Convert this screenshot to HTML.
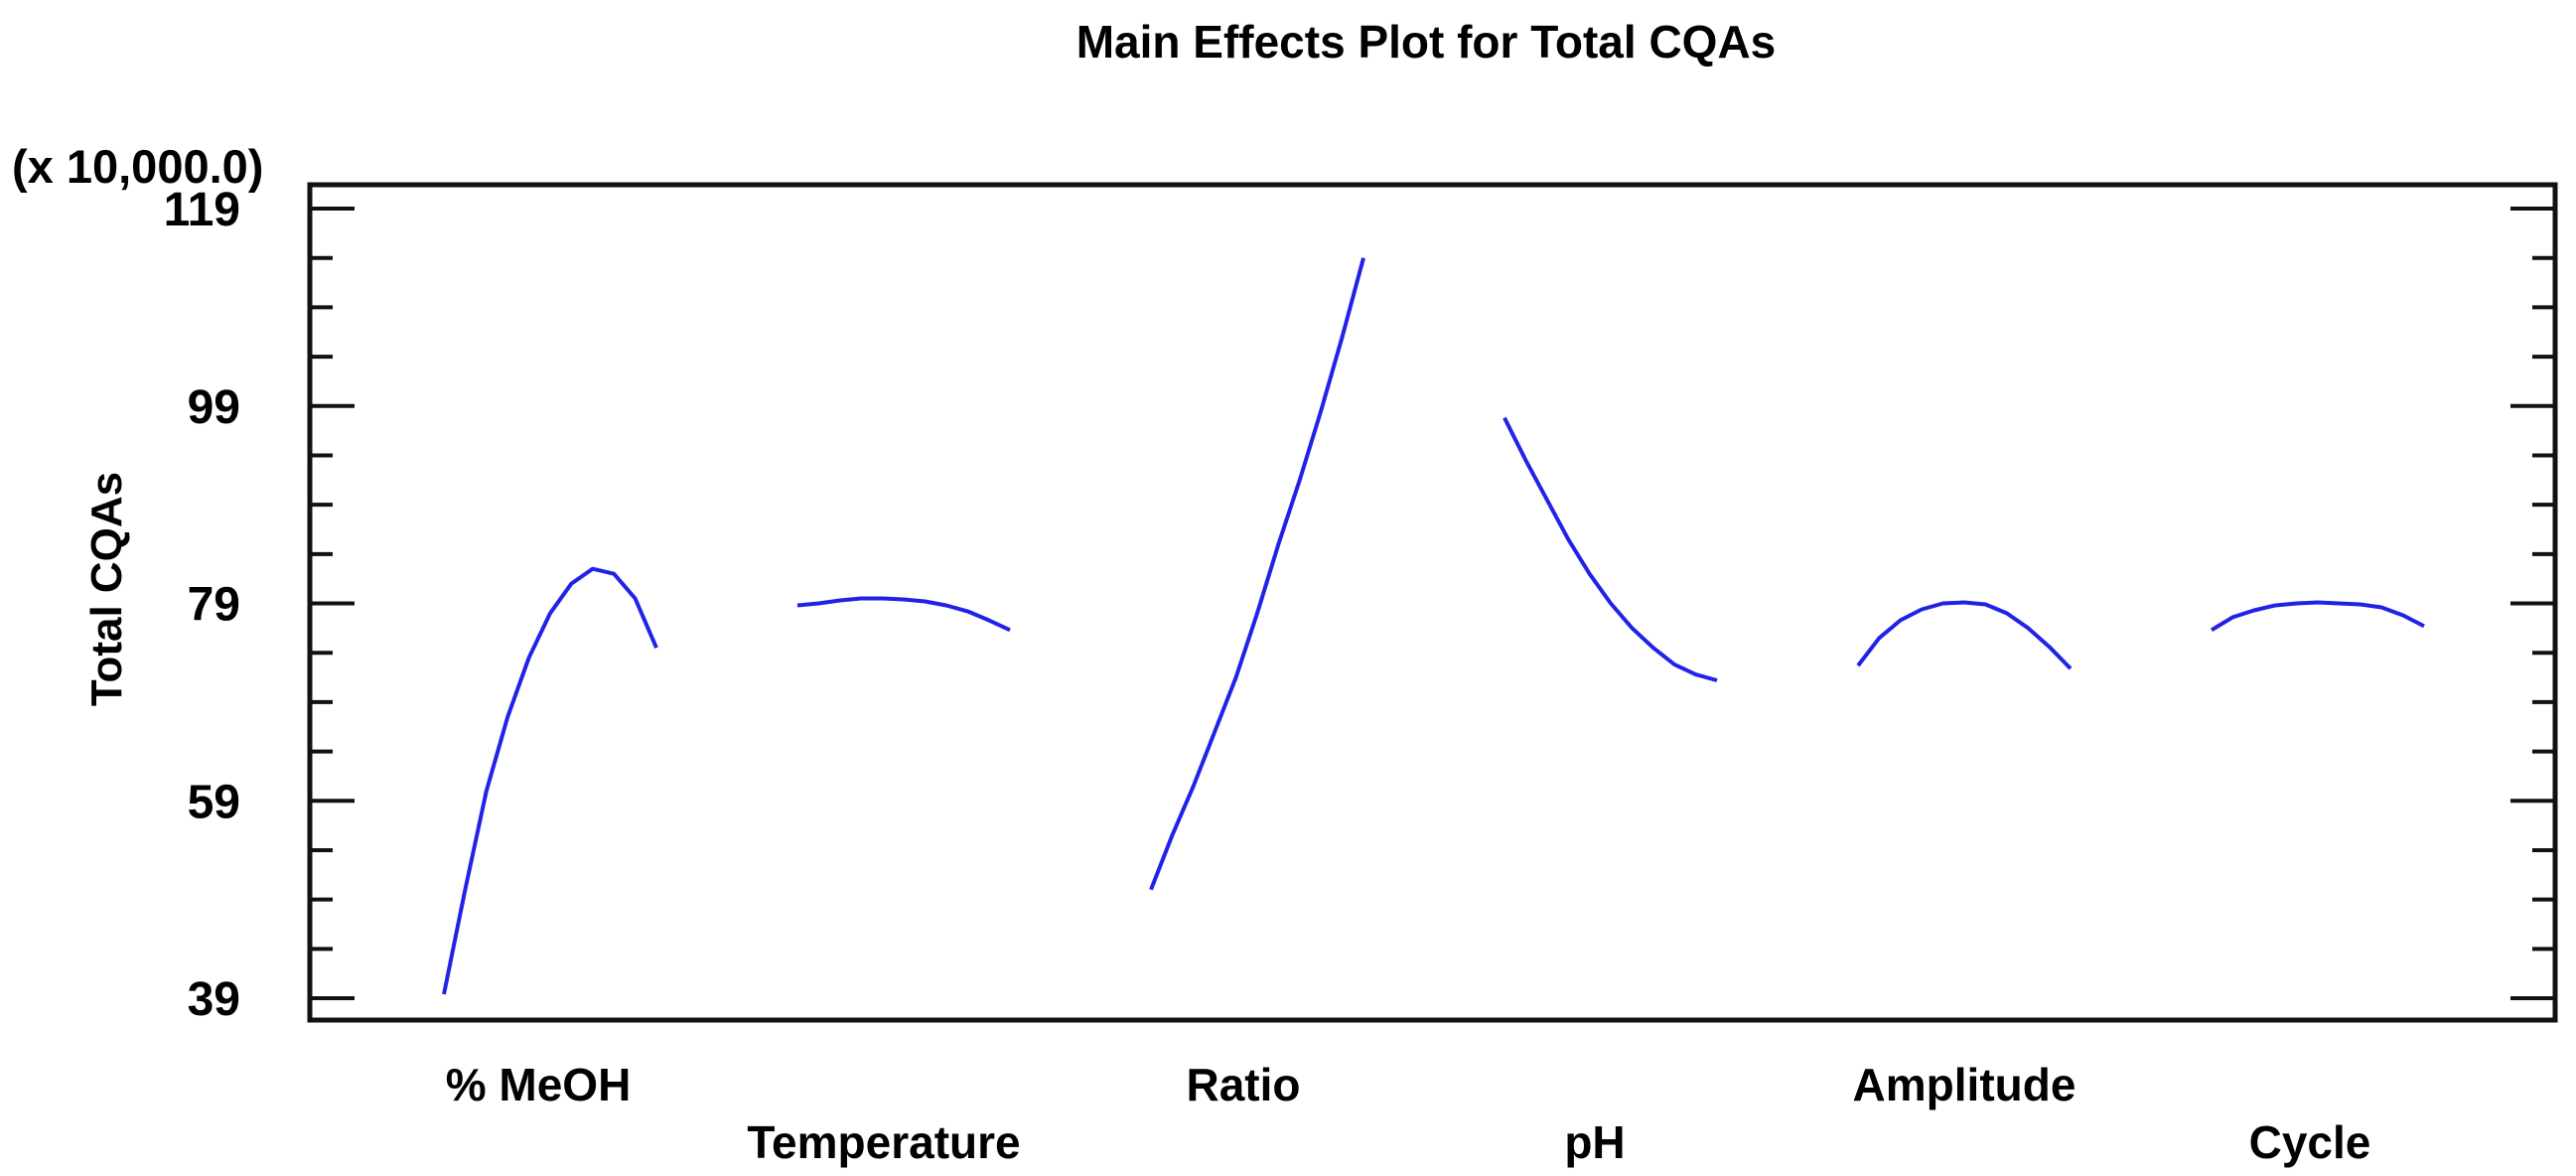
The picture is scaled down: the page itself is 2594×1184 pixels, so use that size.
<!DOCTYPE html>
<html><head><meta charset="utf-8"><style>
html,body{margin:0;padding:0;background:#fff;}
svg{display:block;font-family:"Liberation Sans",Arial,sans-serif;font-weight:bold;}
</style></head><body>
<svg id="chart" width="2594" height="1184" viewBox="0 0 2594 1184" xmlns="http://www.w3.org/2000/svg">
<text x="1436" y="58" font-size="46" text-anchor="middle">Main Effects Plot for Total CQAs</text>
<text x="12" y="184" font-size="47">(x 10,000.0)</text>
<text x="0" y="0" font-size="44" text-anchor="middle" transform="translate(122,593) rotate(-90)">Total CQAs</text>
<rect x="312" y="186" width="2261" height="841" fill="none" stroke="#111" stroke-width="5"/>
<g id="ticks"></g>
<g id="series"></g>
<g id="xlabels"></g>
</svg>
<script>
const yTickLabels = [39, 59, 79, 99, 119];
const factorNames = ["% MeOH", "Temperature", "Ratio", "pH", "Amplitude", "Cycle"];
const meohValues = [39.4, 50, 60, 67.5, 73.5, 78, 81, 82.5, 82, 79.5, 74.5];
const temperatureValues = [78.8, 79.0, 79.3, 79.5, 79.5, 79.4, 79.2, 78.8, 78.2, 77.3, 76.3];
const ratioValues = [50, 55.5, 60.5, 66, 71.5, 78, 85, 91.5, 98.5, 106, 114];
const phValues = [97.8, 93.5, 89.5, 85.5, 82, 79, 76.5, 74.5, 72.8, 71.8, 71.2];
const amplitudeValues = [72.7, 75.5, 77.3, 78.4, 79, 79.1, 78.9, 78, 76.5, 74.6, 72.4];
const cycleValues = [76.3, 77.6, 78.3, 78.8, 79, 79.1, 79, 78.9, 78.6, 77.8, 76.7];
const seriesList = [meohValues, temperatureValues, ratioValues, phValues, amplitudeValues, cycleValues];

const NS = "http://www.w3.org/2000/svg";
const L = 312, R = 2573, T = 186, B = 1027;
const yMin = 39, yMax = 119, yMinPx = 1005, yMaxPx = 210;
function yScale(v){ return yMinPx + (v - yMin) * (yMaxPx - yMinPx) / (yMax - yMin); }
const slotStart = 447, slotStep = 356, slotWidth = 214;
function xScale(factorIdx, level01){ return slotStart + factorIdx * slotStep + level01 * slotWidth; }

const ticks = document.getElementById('ticks');
for (let v = yMin; v <= yMax + 0.001; v += 5) {
  const major = yTickLabels.includes(v);
  const len = major ? 45 : 23;
  const y = yScale(v);
  for (const side of [0, 1]) {
    const ln = document.createElementNS(NS, 'line');
    
    
    const x0 = side ? R : L, x1 = side ? R - len : L + len;
    ln.setAttribute('x1', x0); ln.setAttribute('x2', x1);
    ln.setAttribute('y1', y); ln.setAttribute('y2', y);
    ln.setAttribute('stroke', '#111'); ln.setAttribute('stroke-width', '4');
    ticks.appendChild(ln);
  }
}
yTickLabels.forEach(v => {
  const t = document.createElementNS(NS, 'text');
  
  
  t.setAttribute('x', 242); t.setAttribute('y', yScale(v) + 17);
  t.setAttribute('font-size', '48'); t.setAttribute('text-anchor', 'end');
  t.textContent = v;
  ticks.appendChild(t);
});

const series = document.getElementById('series');
seriesList.forEach((vals, i) => {
  const pts = vals.map((v, k) => xScale(i, k / (vals.length - 1)).toFixed(1) + ',' + yScale(v).toFixed(1)).join(' ');
  const pl = document.createElementNS(NS, 'polyline');
  
  
  pl.setAttribute('points', pts);
  pl.setAttribute('fill', 'none'); pl.setAttribute('stroke', '#2222e6');
  pl.setAttribute('stroke-width', '4'); pl.setAttribute('stroke-linejoin', 'round');
  series.appendChild(pl);
});

const labelShift = [-12, -20, -14, -16, 0, -8];
const xl = document.getElementById('xlabels');
factorNames.forEach((n, i) => {
  const t = document.createElementNS(NS, 'text');
  
  
  t.setAttribute('x', xScale(i, 0.5) + labelShift[i]);
  t.setAttribute('y', i % 2 === 0 ? 1108 : 1166);
  t.setAttribute('font-size', '46'); t.setAttribute('text-anchor', 'middle');
  t.textContent = n;
  xl.appendChild(t);
});
</script>
</body></html>
